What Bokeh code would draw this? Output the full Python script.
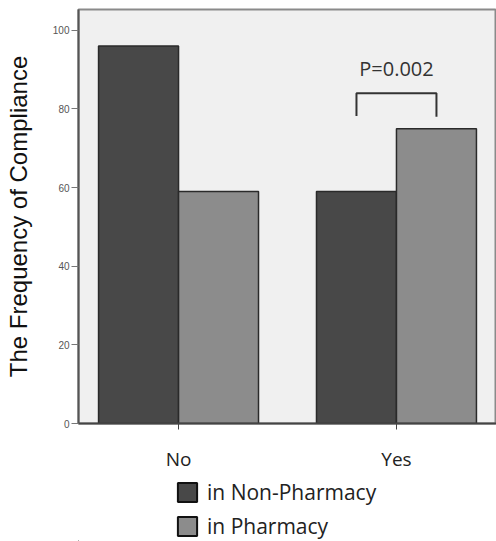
from bokeh.plotting import figure
from bokeh.layouts import column
from bokeh.models import ColumnDataSource, Legend, LegendItem, FixedTicker, Range1d, Label
from bokeh.embed import file_html
from bokeh.resources import INLINE

categories = ["No", "Yes"]
non_pharmacy = [96, 59]
pharmacy = [59, 75]
series_names = ["in Non-Pharmacy", "in Pharmacy"]
y_ticks = [0, 20, 40, 60, 80, 100]
p_label = "P=0.002"

dark = "#484848"
light = "#8c8c8c"
edge = "#2a2a2a"

cx = list(range(len(categories)))
bw = 0.367
src1 = ColumnDataSource(dict(x=[c - bw / 2 for c in cx], top=non_pharmacy))
src2 = ColumnDataSource(dict(x=[c + bw / 2 for c in cx], top=pharmacy))

p = figure(width=496, height=478, output_backend="svg", toolbar_location=None,
           x_range=Range1d(-0.459, 1.459), y_range=Range1d(0, 105.3),
           min_border_left=78, min_border_right=0, min_border_top=9, min_border_bottom=55)
p.background_fill_color = "#f0f0f0"
p.border_fill_color = "white"
p.outline_line_color = "#8a8a8a"
p.outline_line_width = 2
p.xgrid.visible = False
p.ygrid.visible = False

p.vbar(x="x", top="top", width=bw, source=src1, fill_color=dark, line_color=edge, line_width=1.5)
p.vbar(x="x", top="top", width=bw, source=src2, fill_color=light, line_color=edge, line_width=1.5)

# significance bracket between the two "Yes" bars
yes = cx[1]
xl = yes - bw / 2
xr = yes + bw / 2
p.line(x=[xl, xl, xr, xr], y=[78.2, 84, 84, 78.0], line_color="#333333", line_width=2)
p.add_layout(Label(x=yes, y=90.4, text=p_label, text_align="center", text_baseline="middle",
                   text_font="Open Sans", text_font_size="20px", text_color="#333333"))

p.xaxis.ticker = FixedTicker(ticks=cx)
p.xaxis.major_label_overrides = {c: n for c, n in zip(cx, categories)}
p.xaxis.major_label_text_font = "Open Sans"
p.xaxis.major_label_text_font_size = "19px"
p.xaxis.major_label_text_color = "#222222"
p.xaxis.major_label_standoff = 16
p.xaxis.minor_tick_line_color = None
p.xaxis.major_tick_out = 6
p.xaxis.major_tick_in = 0
p.xaxis.axis_line_color = "#444444"
p.xaxis.axis_line_width = 2
p.xaxis.major_tick_line_color = "#444444"

p.yaxis.ticker = FixedTicker(ticks=y_ticks)
p.yaxis.axis_label = "The Frequency of Compliance"
p.yaxis.axis_label_text_font = "Liberation Sans"
p.yaxis.axis_label_text_font_size = "24px"
p.yaxis.axis_label_text_font_style = "normal"
p.yaxis.axis_label_text_color = "#111111"
p.yaxis.axis_label_standoff = 18
p.yaxis.major_label_text_font = "Liberation Sans"
p.yaxis.major_label_text_font_size = "10px"
p.yaxis.major_label_text_color = "#555555"
p.yaxis.major_label_standoff = 2
p.yaxis.minor_tick_line_color = None
p.yaxis.major_tick_out = 7
p.yaxis.major_tick_in = 0
p.yaxis.axis_line_color = "#555555"
p.yaxis.axis_line_width = 2
p.yaxis.major_tick_line_color = "#777777"

# legend strip below the chart (legend proxies lie outside the strip's visible range)
lg = figure(width=496, height=63, output_backend="svg", toolbar_location=None,
            x_range=Range1d(0, 1), y_range=Range1d(0, 1),
            min_border_left=0, min_border_right=0, min_border_top=0, min_border_bottom=0)
lg.axis.visible = False
lg.xgrid.visible = False
lg.ygrid.visible = False
lg.outline_line_color = None
lg.background_fill_color = "white"
proxy = ColumnDataSource(dict(x=[-10], top=[-10]))
e1 = lg.vbar(x="x", top="top", width=0.1, source=proxy, fill_color=dark, line_color="#111111", line_width=2)
e2 = lg.vbar(x="x", top="top", width=0.1, source=proxy, fill_color=light, line_color="#111111", line_width=2)

legend = Legend(items=[LegendItem(label=series_names[0], renderers=[e1]),
                       LegendItem(label=series_names[1], renderers=[e2])],
                location=(97, 1), orientation="vertical")
legend.glyph_width = 24
legend.glyph_height = 24
legend.label_text_font = "Open Sans"
legend.label_text_font_size = "21px"
legend.label_text_color = "#222222"
legend.label_standoff = 8
legend.label_height = 24
legend.spacing = 6
legend.padding = 0
legend.margin = 0
legend.border_line_color = None
legend.background_fill_alpha = 0
lg.add_layout(legend, "center")

layout = column(p, lg, spacing=0)
open("out.html", "w").write(file_html(layout, INLINE))
